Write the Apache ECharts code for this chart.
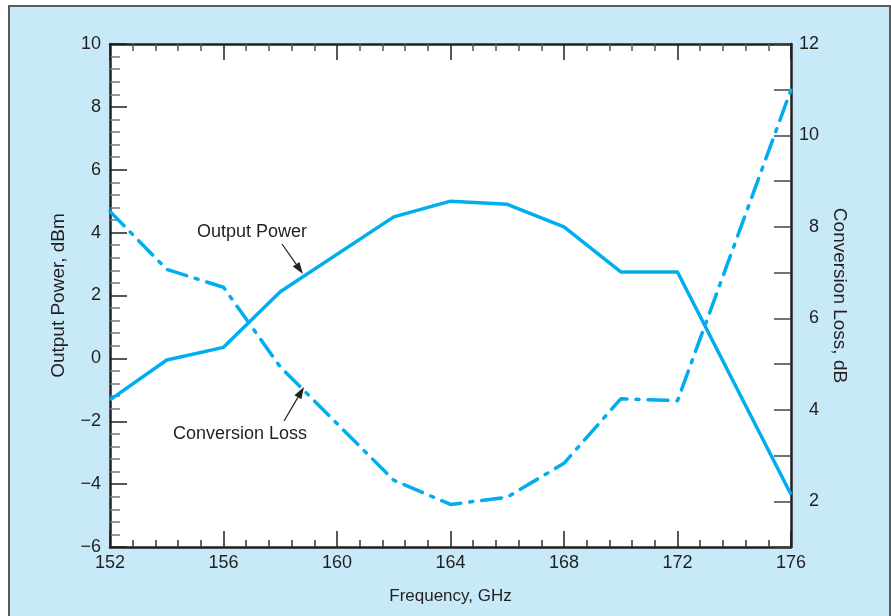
<!DOCTYPE html>
<html>
<head>
<meta charset="utf-8">
<script src="https://cdn.jsdelivr.net/npm/echarts@6/dist/echarts.min.js"></script>
<style>
html,body{margin:0;padding:0;background:#fff;}
#c{width:891px;height:616px;}
</style>
</head>
<body>
<div id="c"></div>
<script>
// Frequency (GHz) for each measured point
const freqs = [152, 154, 156, 158, 162, 164, 166, 168, 170, 172, 176];
// Output power, dBm (left axis)
const outputPower = [-1.32, -0.05, 0.35, 2.12, 4.5, 5.0, 4.9, 4.18, 2.75, 2.75, -4.33];
// Conversion loss, dB (right axis)
const conversionLoss = [8.34, 7.07, 6.68, 4.94, 2.46, 1.93, 2.09, 2.83, 4.24, 4.2, 11.0];

const xTicks = { min: 152, max: 176, interval: 4 };
const leftTicks = { min: -6, max: 10, interval: 2 };
const rightTicks = { min: 1, max: 12, interval: 1 };

const font = '"Liberation Sans", Arial, Helvetica, sans-serif';
const ink = '#231f20';
const lineColor = '#00aeef';

const chart = echarts.init(document.getElementById('c'), null, { renderer: 'canvas' });

const axisLine = { show: true, onZero: false, lineStyle: { color: ink, width: 2.5 } };
const frame = { type: 'rect', z: -10, shape: { x: 9, y: 6, width: 881, height: 620 },
  style: { fill: '#c7e9f8', stroke: '#5a5a5a', lineWidth: 2 } };

const option = {
  backgroundColor: '#ffffff',
  animation: false,
  grid: { left: 110, right: 100, top: 44, bottom: 69, show: true, backgroundColor: '#ffffff', borderWidth: 0 },
  xAxis: [
    { type: 'value', position: 'bottom', min: xTicks.min, max: xTicks.max, interval: xTicks.interval,
      axisLine: axisLine,
      axisTick: { show: true, inside: true, length: 16, lineStyle: { color: ink, width: 1.5 } },
      minorTick: { show: true, splitNumber: 5, length: 7, lineStyle: { color: '#333', width: 1.5 } },
      splitLine: { show: false },
      axisLabel: { color: ink, fontSize: 18, fontFamily: font, margin: 7 },
      name: 'Frequency, GHz', nameLocation: 'middle', nameGap: 41,
      nameTextStyle: { color: ink, fontSize: 17, fontFamily: font } },
    { type: 'value', position: 'top', min: xTicks.min, max: xTicks.max, interval: xTicks.interval,
      axisLine: axisLine,
      axisTick: { show: true, inside: true, length: 16, lineStyle: { color: ink, width: 1.5 } },
      minorTick: { show: true, splitNumber: 5, length: 7, lineStyle: { color: '#555', width: 1.5 } },
      splitLine: { show: false },
      axisLabel: { show: false } }
  ],
  yAxis: [
    { type: 'value', position: 'left', min: leftTicks.min, max: leftTicks.max, interval: leftTicks.interval,
      axisLine: axisLine,
      axisTick: { show: true, inside: true, length: 17, lineStyle: { color: ink, width: 1.5 } },
      minorTick: { show: true, splitNumber: 5, length: 10, lineStyle: { color: '#777', width: 1.5 } },
      splitLine: { show: false },
      axisLabel: { color: ink, fontSize: 18, fontFamily: font, margin: 9,
        formatter: v => String(v).replace('-', '\u2212') },
      name: 'Output Power, dBm', nameLocation: 'middle', nameGap: 42,
      nameTextStyle: { color: ink, fontSize: 19, fontFamily: font } },
    { type: 'value', position: 'right', min: rightTicks.min, max: rightTicks.max, interval: rightTicks.interval,
      axisLine: axisLine,
      axisTick: { show: true, inside: true, length: 17, lineStyle: { color: '#444', width: 1.5 } },
      splitLine: { show: false },
      axisLabel: { color: ink, fontSize: 18, fontFamily: font, margin: 28, align: 'right',
        formatter: v => (v % 2 === 0 ? String(v) : '') },
      name: 'Conversion Loss, dB', nameLocation: 'middle', nameGap: 37, nameRotate: -90,
      nameTextStyle: { color: ink, fontSize: 19, fontFamily: font } }
  ],
  series: [
    { name: 'Output Power', type: 'line', xAxisIndex: 0, yAxisIndex: 0, symbol: 'none',
      lineStyle: { color: lineColor, width: 3.5, join: 'round' },
      data: freqs.map((f, i) => [f, outputPower[i]]) },
    { name: 'Conversion Loss', type: 'line', xAxisIndex: 0, yAxisIndex: 1, symbol: 'none',
      lineStyle: { color: lineColor, width: 3.5, type: [20, 9, 3, 9], cap: 'round', join: 'round' },
      data: freqs.map((f, i) => [f, conversionLoss[i]]) }
  ]
};
chart.setOption(option);

function arrow(x1, y1, x2, y2) {
  const ang = Math.atan2(y2 - y1, x2 - x1);
  const L = 12, W = 4;
  const bx = x2 - L * Math.cos(ang), by = y2 - L * Math.sin(ang);
  const px = -Math.sin(ang) * W, py = Math.cos(ang) * W;
  return [
    { type: 'line', shape: { x1: x1, y1: y1, x2: bx, y2: by }, style: { stroke: ink, lineWidth: 1.2 }, z: 10 },
    { type: 'polygon', shape: { points: [[x2, y2], [bx + px, by + py], [bx - px, by - py]] }, style: { fill: ink }, z: 10 }
  ];
}

chart.setOption({
  graphic: [
    frame,
    { type: 'text', x: 197, y: 232, z: 10,
      style: { text: 'Output Power', fill: ink, font: '18px ' + font, textVerticalAlign: 'middle' } },
    { type: 'text', x: 173, y: 434, z: 10,
      style: { text: 'Conversion Loss', fill: ink, font: '18px ' + font, textVerticalAlign: 'middle' } }
  ].concat(arrow(282, 244, 303, 274)).concat(arrow(284, 421, 304, 387))
});
</script>
</body>
</html>
